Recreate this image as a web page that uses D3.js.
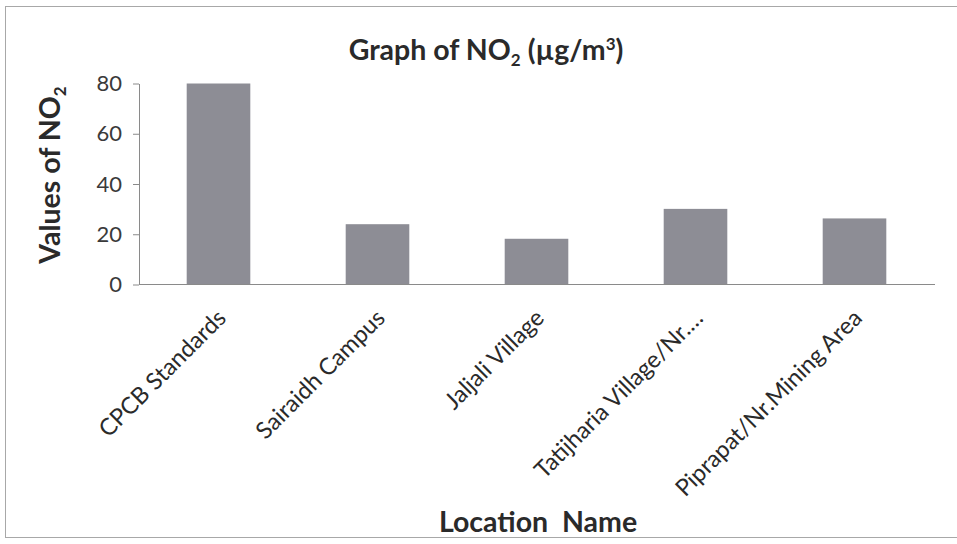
<!DOCTYPE html>
<html>
<head>
<meta charset="utf-8">
<script src="https://cdn.jsdelivr.net/npm/d3@7"></script>
<style>
  body { margin: 0; background: #fff; }
  svg { display: block; font-family: Lato, "Open Sans", sans-serif; }
</style>
</head>
<body>
<svg id="chart" width="957" height="544"></svg>
<script>
const categories = ["CPCB Standards", "Sairaidh Campus", "Jaljali Village", "Tatijharia Village/Nr.\u2026", "Piprapat/Nr.Mining Area"];
const values = [80, 24, 18.2, 30.1, 26.3];
const yTicks = [0, 20, 40, 60, 80];

const svg = d3.select("#chart");

// outer chart frame
svg.append("rect").attr("x", 5.5).attr("y", 6.5).attr("width", 960).attr("height", 531)
  .attr("fill", "#fff").attr("stroke", "#a8a8a8").attr("stroke-width", 1);

const x = d3.scaleBand().domain(categories).range([139, 934]).paddingInner(0.6).paddingOuter(0.3);
const y = d3.scaleLinear().domain([0, 80]).range([284.5, 83.5]);

// bars
svg.append("g").selectAll("rect").data(values).join("rect")
  .attr("x", (d, i) => x(categories[i]))
  .attr("y", d => y(d))
  .attr("width", x.bandwidth())
  .attr("height", d => y(0) - y(d))
  .attr("fill", "#8d8d95");

// y axis
const yAxis = svg.append("g").attr("transform", "translate(139,0)")
  .call(d3.axisLeft(y).tickValues(yTicks).tickSize(6).tickPadding(11).tickSizeOuter(0));
yAxis.select(".domain").attr("stroke", "#8a8a8a");
yAxis.selectAll(".tick line").attr("stroke", "#8a8a8a");
yAxis.selectAll(".tick text").attr("font-size", 22).attr("fill", "#3a3a3a").attr("font-family", "Lato, sans-serif");

// x axis line
const xAxis = svg.append("g").attr("transform", `translate(0,${y(0)})`)
  .call(d3.axisBottom(x).tickSize(0).tickSizeOuter(0).tickFormat(""));
xAxis.select(".domain").attr("stroke", "#8a8a8a").attr("d", `M${139},0H${935}`);

// x labels, rotated
svg.append("g").selectAll("text").data(categories).join("text")
  .attr("transform", d => `translate(${x(d) + x.bandwidth() / 2 + 9},${y(0) + 35}) rotate(-45)`)
  .attr("text-anchor", "end")
  .attr("font-size", 23.5)
  .attr("fill", "#2a2a2a")
  .text(d => d);

// title
const title = svg.append("text").attr("x", 486).attr("y", 60).attr("text-anchor", "middle")
  .attr("font-size", 28.5).attr("font-weight", "bold").attr("fill", "#2a2a2a");
title.append("tspan").text("Graph of NO");
title.append("tspan").text("2").attr("font-size", 17).attr("dy", 6);
title.append("tspan").text(" (\u00b5g/m").attr("dy", -6);
title.append("tspan").text("3").attr("font-size", 17).attr("dy", -10);
title.append("tspan").text(")").attr("dy", 10);

// y axis title
const yt = svg.append("text").attr("transform", "translate(60,175) rotate(-90)")
  .attr("text-anchor", "middle").attr("font-size", 28.5).attr("font-weight", "bold").attr("fill", "#2a2a2a");
yt.append("tspan").text("Values of NO");
yt.append("tspan").text("2").attr("font-size", 17).attr("dy", 6);

// x axis title
svg.append("text").attr("x", 538).attr("y", 532).attr("text-anchor", "middle")
  .attr("font-size", 28.5).attr("font-weight", "bold").attr("fill", "#2a2a2a")
  .attr("xml:space", "preserve").text("Location  Name");
</script>
</body>
</html>
